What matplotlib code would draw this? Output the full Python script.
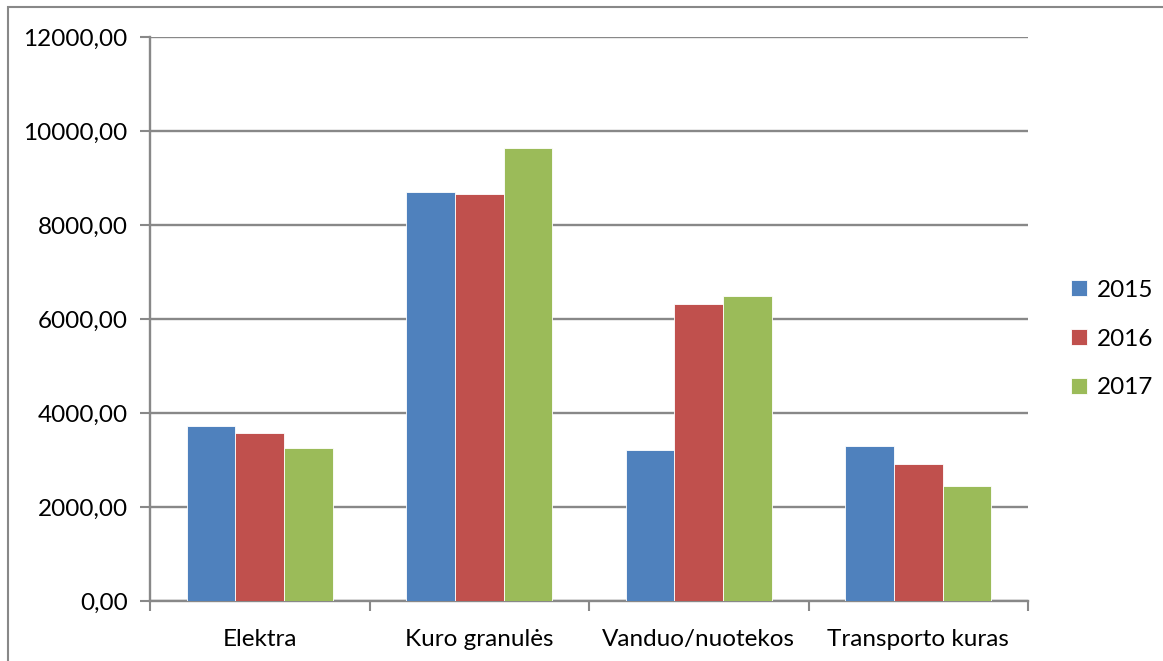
import numpy as np
import matplotlib
matplotlib.use("Agg")
import matplotlib.pyplot as plt
from matplotlib.patches import Rectangle
from matplotlib.ticker import FuncFormatter

categories = ["Elektra", "Kuro granulės", "Vanduo/nuotekos", "Transporto kuras"]
years = ["2015", "2016", "2017"]
v2015 = [3728, 8712, 3215, 3301]
v2016 = [3565, 8663, 6325, 2924]
v2017 = [3258, 9647, 6496, 2445]
colors = ["#4f81bd", "#c0504d", "#9bbb59"]

plt.rcParams['font.family'] = ['Lato', 'DejaVu Sans']

fig = plt.figure(figsize=(11.63, 6.61), dpi=100)
ax = fig.add_axes([150/1163, 60/661, 878/1163, 564/661])

x = np.arange(len(categories))
w = 0.667 / 3
for i, (vals, c, lab) in enumerate(zip([v2015, v2016, v2017], colors, years)):
    ax.bar(x + (i - 1) * w, vals, w, color=c, label=lab, edgecolor="white", linewidth=0.6, zorder=3)

ax.set_xlim(-0.5, len(categories) - 0.5)
ax.set_ylim(0, 12000)
ax.set_yticks(np.arange(0, 12001, 2000))
ax.yaxis.set_major_formatter(FuncFormatter(lambda v, p: f"{v:.2f}".replace(".", ",")))
ax.grid(axis="y", color="#888888", linewidth=1.7, zorder=0)

ax.set_xticks(x)
ax.set_xticklabels(categories)
ax.set_xticks(np.arange(-0.5, len(categories), 1), minor=True)
ax.tick_params(axis="x", which="major", length=0, pad=20, labelsize=17.5)
ax.tick_params(axis="x", which="minor", length=7, color="#888888", width=1.5)
ax.tick_params(axis="y", length=7, color="#888888", width=1.5, labelsize=17.5, pad=9)

for s in ["top", "right"]:
    ax.spines[s].set_visible(False)
for s in ["left", "bottom"]:
    ax.spines[s].set_color("#888888")
    ax.spines[s].set_linewidth(1.7)

ax.legend(loc="center left", bbox_to_anchor=(1.049, 0.4645), frameon=False,
          fontsize=17.5, handlelength=0.66, handleheight=0.66, labelspacing=1.15,
          handletextpad=0.42, borderpad=0, borderaxespad=0)

fig.patches.append(Rectangle((8/1163, -0.1), 1.2, (661 - 7) / 661 + 0.1,
                             transform=fig.transFigure, fill=False,
                             edgecolor="#888888", linewidth=1.5))

fig.savefig("out.png", dpi=100)
